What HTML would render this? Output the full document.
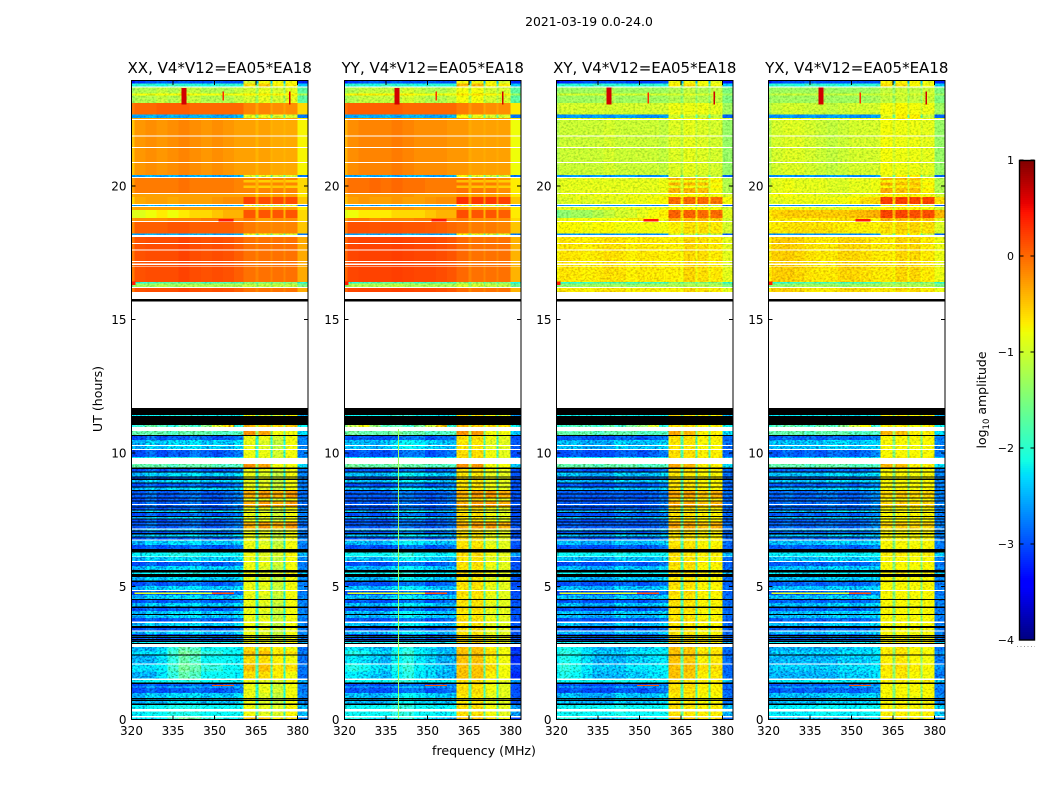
<!DOCTYPE html>
<html>
<head>
<meta charset="utf-8">
<title>2021-03-19 0.0-24.0</title>
<style>
html,body{margin:0;padding:0;background:#fff;width:1050px;height:800px;overflow:hidden}
svg{display:block}
text{font-family:"DejaVu Sans","Liberation Sans",sans-serif;fill:#000}
</style>
</head>
<body>
<svg id="chart" xmlns="http://www.w3.org/2000/svg" width="1050" height="800" viewBox="0 0 1050 800">
<defs>
<filter id="speckle" color-interpolation-filters="sRGB" x="0" y="0" width="100%" height="100%">
<feTurbulence type="fractalNoise" baseFrequency="0.42 0.55" numOctaves="2" seed="4" result="n"/>
<feColorMatrix in="n" type="matrix" values="2.4 0 0 0 -0.7 2.4 0 0 0 -0.7 2.4 0 0 0 -0.7 0 0 0 0 1" result="m"/>
<feComposite in="SourceGraphic" in2="m" operator="arithmetic" k1="0.75" k2="0.72" k3="0" k4="0"/>
</filter>
<filter id="speckle-soft" color-interpolation-filters="sRGB" x="0" y="0" width="100%" height="100%">
<feTurbulence type="fractalNoise" baseFrequency="0.42 0.55" numOctaves="2" seed="9" result="n"/>
<feColorMatrix in="n" type="matrix" values="2.2 0 0 0 -0.6 2.2 0 0 0 -0.6 2.2 0 0 0 -0.6 0 0 0 0 1" result="m"/>
<feComposite in="SourceGraphic" in2="m" operator="arithmetic" k1="0.3" k2="0.86" k3="0" k4="0"/>
</filter>
</defs>
<rect width="1050" height="800" fill="#fff"/>
<text x="589" y="26" font-size="12.4" text-anchor="middle">2021-03-19 0.0-24.0</text>
<text x="484" y="755" font-size="12.6" text-anchor="middle">frequency (MHz)</text>
<text transform="translate(102,399) rotate(-90)" font-size="12.6" text-anchor="middle">UT (hours)</text>
<text transform="translate(986,400) rotate(-90)" font-size="12.5" text-anchor="middle">log<tspan font-size="8.5" dy="3">10</tspan><tspan dy="-3"> amplitude</tspan></text>
<g id="panels"></g>
<g id="colorbar"></g>
</svg>
<script>
const panelTitles = ["XX, V4*V12=EA05*EA18","YY, V4*V12=EA05*EA18","XY, V4*V12=EA05*EA18","YX, V4*V12=EA05*EA18"];
const freqTicks = [320,335,350,365,380];
const utTicks = [0,5,10,15,20];
const colorbarTicks = [1,0,-1,-2,-3,-4];
const freqEdges = [320,321,325,329,333,337,341,345,349,353,357,360.4,364.8,365.8,370.2,370.9,374.9,375.6,379.9,383.7];
const utTop = 23.94;
const rowUtStart = [0,.09,.13,.30,.41,.56,.60,.71,.75,.79,.82,1.01,1.20,1.24,1.35,1.39,1.48,1.54,1.80,2.06,2.10,2.41,2.45,2.58,2.73,2.85,2.88,2.92,2.96,3.00,3.03,3.07,3.11,3.15,3.18,3.22,3.30,3.34,3.45,3.52,3.63,3.69,3.82,3.93,3.97,4.08,4.19,4.25,4.38,4.49,4.53,4.68,4.83,4.87,5.02,5.17,5.21,5.36,5.47,5.52,5.62,5.77,5.92,5.95,6.09,6.12,6.28,6.40,6.55,6.72,6.75,6.83,6.86,6.95,6.99,7.06,7.10,7.13,7.17,7.28,7.32,7.40,7.43,7.51,7.55,7.60,7.64,7.75,7.79,7.85,7.88,7.96,8.00,8.05,8.09,8.18,8.22,8.30,8.33,8.45,8.48,8.58,8.61,8.71,8.75,8.86,8.89,9.00,9.04,9.08,9.12,9.27,9.31,9.40,9.46,9.59,9.81,9.85,10.11,10.15,10.26,10.30,10.49,10.64,10.67,10.82,10.97,11.05,11.38,11.42,11.68,15.69,15.76,16.03,16.18,16.22,16.35,16.41,16.98,17.00,17.04,17.09,17.16,17.20,17.58,17.62,17.83,17.86,18.10,18.16,18.22,18.65,18.69,18.80,19.10,19.21,19.25,19.29,19.33,19.60,19.70,19.74,19.92,20.03,20.14,20.22,20.31,20.35,20.41,20.86,20.90,21.42,21.46,21.85,21.89,22.47,22.51,22.56,22.69,23.11,23.40,23.48,23.69,23.74,23.84];
const rowKind = ["g","w","t","w","t","k","b","k","b","k","b","a","b","a","k","t","w","h","g","w","h","k","g","h","w","k","t","k","a","k","a","k","b","k","a","b","w","a","k","b","w","a","b","k","b","a","k","b","a","k","b","a","w","b","a","k","b","k","t","k","b","a","w","b","w","t","k","a","b","w","a","k","b","k","a","k","b","w","e","k","e","k","a","k","b","k","a","k","b","k","a","k","e","w","e","k","a","k","e","k","e","k","b","k","a","k","b","k","a","k","b","k","a","k","o","w","t","a","w","b","w","b","a","k","o","w","c","k","t","k","w","k","w","R","w","L","D","R","w","R","w","R","w","R","w","R","w","R","w","B","P","w","Q","M","O","w","B","w","K","O","w","J","N","J","N","J","w","B","I","w","I","w","I","w","I","w","O","B","H","G","F","G","w","C","A"];
const specXX = {
a:[-3.1,-3.05,-2.9,-3.05,-2.95,-3.0,-2.85,-2.95,-3.05,-2.95,-2.85,-0.85,-2.0,-0.85,-2.0,-1.0,-2.0,-0.8,-2.85],
b:[-2.6,-2.65,-2.45,-2.55,-2.4,-2.45,-2.35,-2.55,-2.45,-2.55,-2.4,-0.85,-2.0,-0.95,-2.0,-1.1,-2.1,-0.8,-2.8],
t:[-2.3,-2.3,-2.2,-2.2,-2.1,-2.1,-2.1,-2.2,-2.2,-2.2,-2.2,-0.8,-1.8,-0.9,-1.8,-0.95,-1.9,-0.75,-2.6],
h:[-2.6,-2.6,-2.6,-2.4,-2.0,-1.7,-1.8,-2.2,-2.2,-2.2,-2.3,-0.6,-1.9,-0.6,-1.9,-0.7,-2.0,-0.8,-2.9],
g:[-2.4,-2.4,-2.4,-2.3,-1.9,-1.6,-1.7,-2.0,-2.0,-2.2,-2.2,-0.45,-1.8,-0.45,-1.7,-0.65,-1.8,-0.6,-2.85],
e:[-3.0,-3.0,-2.85,-3.0,-3.0,-2.9,-2.85,-3.0,-3.0,-2.9,-2.8,-0.35,-1.6,-0.25,-1.6,-0.35,-1.6,-0.25,-2.9],
o:[-1.7,-1.7,-1.7,-1.7,-1.8,-1.7,-1.7,-1.7,-1.8,-1.8,-1.8,-0.2,-1.3,-0.3,-1.5,-0.8,-1.6,-0.8,-2.4],
c:[-2.1,-1.9,-1.7,-1.8,-2.0,-1.7,-1.9,-1.5,-1.0,-0.5,-2.0,-0.4,-1.2,-0.5,-1.4,-0.6,-1.5,-0.5,-2.2],
A:[-3.3,-3.1,-3.0,-2.9,-3.0,-2.9,-3.0,-3.0,-2.9,-3.0,-3.0,-1.0,-2.5,-0.8,-2.5,-0.8,-2.5,-0.8,-3.2],
C:[-2.1,-2.0,-2.0,-2.1,-1.9,-2.0,-2.0,-2.1,-2.0,-2.0,-2.0,-0.6,-1.6,-0.5,-1.6,-0.7,-1.7,-0.7,-2.4],
G:[-1.3,-1.2,-1.2,-1.1,-1.2,-1.1,-1.1,-1.2,-1.2,-1.2,-1.1,-1.0,-1.3,-0.9,-1.3,-1.0,-1.3,-0.9,-1.7],
F:[-0.9,-0.8,-0.8,-0.8,-0.8,-0.7,-0.8,-0.8,-0.8,-0.8,-0.8,-0.7,-0.9,-0.7,-0.9,-0.7,-0.9,-0.7,-1.2],
H:[-0.1,0.0,0.0,0.05,0.05,0.05,0.0,0.0,0.0,0.0,0.0,-0.15,-0.3,-0.15,-0.3,-0.2,-0.3,-0.2,-0.6],
B:[-2.6,-2.6,-2.5,-2.6,-2.5,-2.6,-2.5,-2.5,-2.6,-2.6,-2.5,-0.9,-1.5,-0.9,-1.6,-1.0,-1.6,-1.0,-2.8],
O:[-0.4,-0.3,-0.3,-0.3,-0.3,-0.3,-0.3,-0.3,-0.3,-0.3,-0.3,-0.3,-0.5,-0.3,-0.5,-0.3,-0.5,-0.3,-0.7],
I:[-0.5,-0.25,-0.2,-0.25,-0.2,-0.15,-0.2,-0.25,-0.2,-0.25,-0.3,-0.3,-0.4,-0.3,-0.4,-0.35,-0.4,-0.35,-0.75],
J:[-0.3,-0.1,-0.1,-0.1,-0.1,-0.05,-0.1,-0.1,-0.1,-0.1,-0.15,-0.15,-0.4,-0.15,-0.4,-0.15,-0.4,-0.15,-0.6],
N:[-0.3,-0.1,-0.1,-0.1,-0.1,-0.05,-0.1,-0.1,-0.1,-0.1,-0.15,-0.5,-0.4,-0.55,-0.4,-0.5,-0.4,-0.55,-0.6],
K:[-0.6,-0.35,-0.3,-0.3,-0.35,-0.3,-0.3,-0.3,-0.25,-0.2,-0.2,0.2,-0.2,0.15,-0.2,0.15,-0.2,0.15,-0.5],
M:[-0.9,-0.9,-0.8,-0.7,-0.8,-0.7,-0.6,-0.6,-0.5,-0.4,-0.4,0.1,-0.4,0.1,-0.4,0.1,-0.4,0.1,-0.6],
Q:[-0.3,-0.2,-0.2,-0.2,-0.15,-0.15,-0.15,-0.1,-0.1,-0.1,-0.2,-0.1,-0.3,-0.3,-0.3,-0.2,-0.3,-0.2,-0.6],
P:[-0.2,0.05,0.05,0.05,0.1,0.1,0.05,0.05,0.05,0.05,0.0,-0.1,-0.2,-0.15,-0.2,-0.15,-0.2,-0.15,-0.5],
R:[-0.1,0.12,0.15,0.15,0.15,0.2,0.15,0.12,0.15,0.12,0.05,-0.05,-0.15,-0.05,-0.15,-0.05,-0.15,-0.05,-0.35],
L:[-1.5,-1.3,-1.3,-1.2,-1.3,-1.2,-1.2,-1.2,-1.2,-1.2,-1.2,-1.1,-1.3,-1.1,-1.3,-1.1,-1.3,-1.1,-1.5],
D:[-2.2,-2.0,-1.9,-1.8,-1.7,-1.8,-1.7,-1.9,-1.8,-1.8,-1.8,-1.5,-1.7,-1.5,-1.7,-1.5,-1.7,-1.5,-2.0]
};
const specYY = {
a:[-3.0,-3.05,-2.95,-3.05,-3.05,-2.95,-2.85,-2.85,-3.05,-2.95,-2.85,-0.6,-1.8,-0.6,-1.8,-0.8,-1.9,-0.9,-3.05],
b:[-2.55,-2.55,-2.55,-2.65,-2.55,-2.35,-2.2,-2.35,-2.45,-2.55,-2.55,-0.65,-1.8,-0.65,-1.8,-0.9,-1.9,-0.9,-3.0],
t:[-2.2,-2.2,-2.2,-2.2,-2.2,-2.0,-2.0,-2.2,-2.2,-2.3,-2.2,-0.6,-1.7,-0.6,-1.7,-0.8,-1.8,-0.9,-2.7],
h:[-2.4,-2.3,-2.4,-2.5,-2.6,-2.25,-2.05,-2.35,-2.45,-2.6,-2.6,-0.45,-1.7,-0.45,-1.7,-0.7,-1.8,-0.8,-3.2],
g:[-2.2,-2.05,-2.15,-2.35,-2.45,-2.15,-1.95,-2.25,-2.4,-2.5,-2.6,-0.45,-1.7,-0.45,-1.7,-0.6,-1.8,-0.8,-3.1],
e:[-2.95,-3.0,-2.95,-3.0,-3.0,-2.85,-2.85,-2.95,-3.0,-2.95,-2.85,-0.35,-1.6,-0.25,-1.6,-0.25,-1.7,-0.35,-3.0],
o:[-1.7,-1.6,-1.7,-1.7,-1.7,-1.6,-1.7,-1.7,-1.8,-1.8,-1.8,-0.2,-1.3,-0.25,-1.5,-0.8,-1.6,-0.8,-2.5],
c:[-1.5,-1.2,-0.8,-1.4,-1.8,-1.7,-1.9,-1.6,-1.1,-0.5,-2.0,-0.4,-1.2,-0.5,-1.4,-0.6,-1.5,-0.6,-2.2],
A:[-3.3,-3.1,-3.0,-2.9,-3.0,-2.9,-3.0,-3.0,-2.9,-3.0,-3.0,-0.8,-2.5,-0.8,-2.5,-0.8,-2.5,-1.0,-3.2],
C:[-2.1,-2.0,-2.0,-2.1,-1.9,-2.0,-2.0,-2.1,-2.0,-2.0,-2.0,-0.4,-1.6,-0.4,-1.6,-0.7,-1.7,-0.7,-2.4],
G:[-1.3,-1.2,-1.1,-1.1,-1.1,-1.1,-1.0,-1.1,-1.2,-1.2,-1.1,-0.8,-1.2,-0.8,-1.2,-1.0,-1.2,-1.0,-1.7],
F:[-0.8,-0.7,-0.7,-0.7,-0.7,-0.7,-0.7,-0.8,-0.8,-0.8,-0.8,-0.6,-0.8,-0.6,-0.8,-0.7,-0.9,-0.7,-1.3],
H:[-0.05,0.05,0.05,0.05,0.05,0.05,0.0,0.0,0.0,0.0,0.0,-0.1,-0.25,-0.15,-0.3,-0.2,-0.3,-0.2,-0.7],
B:[-2.6,-2.6,-2.5,-2.6,-2.5,-2.6,-2.5,-2.5,-2.6,-2.6,-2.5,-0.8,-1.5,-0.9,-1.6,-1.0,-1.6,-1.0,-2.8],
O:[-0.4,-0.25,-0.25,-0.25,-0.25,-0.25,-0.25,-0.3,-0.3,-0.3,-0.3,-0.25,-0.45,-0.3,-0.45,-0.3,-0.45,-0.3,-0.7],
I:[-0.4,-0.2,-0.15,-0.15,-0.15,-0.1,-0.15,-0.2,-0.2,-0.2,-0.25,-0.25,-0.35,-0.3,-0.35,-0.3,-0.35,-0.3,-0.8],
J:[-0.2,-0.05,-0.05,0.0,-0.05,0.0,-0.05,-0.05,-0.1,-0.1,-0.1,-0.05,-0.4,-0.1,-0.4,-0.1,-0.4,-0.2,-0.7],
N:[-0.2,-0.05,-0.05,0.0,-0.05,0.0,-0.05,-0.05,-0.1,-0.1,-0.1,-0.45,-0.4,-0.5,-0.4,-0.5,-0.4,-0.55,-0.7],
K:[-0.5,-0.3,-0.25,-0.3,-0.3,-0.25,-0.3,-0.3,-0.25,-0.2,-0.2,0.3,-0.2,0.25,-0.2,0.25,-0.2,0.2,-0.5],
M:[-0.9,-0.8,-0.7,-0.7,-0.7,-0.6,-0.6,-0.6,-0.5,-0.4,-0.4,0.15,-0.4,0.1,-0.4,0.1,-0.4,0.05,-0.7],
Q:[-0.3,-0.1,-0.1,-0.2,-0.15,-0.15,-0.15,-0.1,-0.1,-0.1,-0.2,-0.1,-0.3,-0.2,-0.3,-0.2,-0.3,-0.2,-0.6],
P:[-0.1,0.12,0.12,0.1,0.12,0.12,0.1,0.1,0.08,0.05,0.0,-0.05,-0.2,-0.1,-0.2,-0.1,-0.2,-0.15,-0.5],
R:[0.0,0.18,0.2,0.2,0.2,0.22,0.2,0.18,0.18,0.15,0.1,0.0,-0.15,-0.05,-0.15,-0.05,-0.15,-0.05,-0.4],
L:[-1.4,-1.2,-1.2,-1.2,-1.2,-1.1,-1.2,-1.2,-1.2,-1.2,-1.2,-1.0,-1.3,-1.0,-1.3,-1.1,-1.3,-1.1,-1.6],
D:[-2.2,-2.0,-1.9,-1.8,-1.7,-1.8,-1.7,-1.9,-1.8,-1.8,-1.8,-1.4,-1.7,-1.4,-1.7,-1.5,-1.7,-1.5,-2.1]
};
const specXY = {
a:[-3.05,-3.05,-2.95,-3.05,-3.05,-3.05,-2.95,-2.95,-3.05,-2.95,-2.85,-0.6,-1.8,-0.6,-1.8,-0.7,-1.8,-0.7,-2.95],
b:[-2.6,-2.55,-2.55,-2.65,-2.65,-2.65,-2.45,-2.55,-2.55,-2.55,-2.45,-0.65,-1.8,-0.65,-1.8,-0.75,-1.8,-0.75,-2.9],
t:[-2.2,-2.2,-2.2,-2.2,-2.2,-2.2,-2.1,-2.2,-2.2,-2.2,-2.2,-0.6,-1.7,-0.65,-1.7,-0.7,-1.7,-0.7,-2.6],
h:[-2.3,-2.1,-2.2,-2.4,-2.6,-2.6,-2.6,-2.5,-2.5,-2.4,-2.35,-0.45,-1.7,-0.5,-1.7,-0.7,-1.7,-0.65,-2.9],
g:[-2.2,-2.0,-2.1,-2.35,-2.5,-2.5,-2.5,-2.35,-2.35,-2.3,-2.25,-0.45,-1.7,-0.45,-1.7,-0.6,-1.7,-0.6,-2.95],
e:[-2.95,-3.0,-2.95,-3.0,-3.0,-2.95,-2.95,-3.0,-3.0,-2.95,-2.85,-0.3,-1.6,-0.3,-1.6,-0.45,-1.6,-0.35,-2.9],
o:[-1.7,-1.7,-1.7,-1.7,-1.8,-1.7,-1.7,-1.7,-1.8,-1.8,-1.8,-0.3,-1.3,-0.4,-1.5,-0.7,-1.6,-0.7,-2.4],
c:[-2.0,-1.9,-1.8,-1.8,-1.9,-1.7,-1.9,-1.6,-1.4,-1.0,-2.0,-0.6,-1.2,-0.6,-1.4,-0.7,-1.5,-0.7,-2.2],
A:[-3.4,-3.2,-3.1,-3.0,-3.0,-3.0,-3.0,-3.1,-3.1,-3.1,-3.0,-0.8,-2.5,-0.8,-2.5,-0.8,-2.5,-0.9,-3.3],
C:[-2.1,-2.0,-2.0,-2.1,-1.9,-2.0,-2.0,-2.1,-2.0,-2.0,-2.0,-0.7,-1.6,-0.6,-1.6,-0.8,-1.7,-0.8,-2.4],
G:[-1.4,-1.3,-1.3,-1.3,-1.3,-1.2,-1.3,-1.3,-1.3,-1.3,-1.3,-1.2,-1.4,-1.1,-1.4,-1.2,-1.4,-1.1,-1.5],
F:[-1.1,-1.0,-1.0,-1.0,-1.0,-1.0,-1.0,-1.0,-1.0,-1.0,-1.0,-1.0,-1.1,-0.95,-1.1,-1.0,-1.1,-1.0,-1.3],
H:[-1.1,-1.0,-1.0,-1.0,-1.0,-1.0,-1.0,-1.0,-1.0,-1.0,-1.0,-0.85,-1.0,-0.85,-1.0,-0.85,-1.0,-0.9,-1.3],
B:[-2.7,-2.7,-2.6,-2.7,-2.6,-2.7,-2.6,-2.6,-2.7,-2.7,-2.6,-1.0,-1.6,-1.0,-1.7,-1.1,-1.7,-1.1,-2.9],
O:[-1.0,-0.9,-0.9,-0.9,-0.85,-0.85,-0.9,-0.85,-0.85,-0.85,-0.85,-0.75,-0.9,-0.75,-0.9,-0.75,-0.95,-0.8,-1.0],
I:[-1.2,-1.05,-1.05,-1.05,-1.05,-1.0,-1.05,-1.05,-1.05,-1.05,-1.1,-0.95,-1.1,-0.9,-1.1,-0.95,-1.1,-1.0,-1.35],
J:[-1.1,-0.9,-0.9,-0.9,-0.9,-0.9,-0.9,-0.9,-0.9,-0.9,-0.85,-0.4,-1.0,-0.4,-1.0,-0.45,-1.0,-0.8,-1.2],
N:[-1.1,-0.9,-0.9,-0.9,-0.9,-0.9,-0.9,-0.9,-0.9,-0.9,-0.85,-0.85,-1.0,-0.8,-1.0,-0.85,-1.0,-0.7,-1.2],
K:[-1.1,-0.95,-0.9,-0.95,-0.9,-0.9,-0.9,-0.85,-0.85,-0.8,-0.75,0.0,-0.6,0.0,-0.6,0.0,-0.6,-0.05,-0.8],
M:[-1.6,-1.4,-1.3,-1.3,-1.2,-1.1,-1.0,-1.0,-0.9,-0.8,-0.7,0.05,-0.6,0.05,-0.6,0.0,-0.6,0.0,-0.9],
Q:[-0.9,-0.8,-0.8,-0.8,-0.8,-0.8,-0.8,-0.7,-0.7,-0.7,-0.8,-0.3,-0.8,-0.4,-0.8,-0.4,-0.8,-0.5,-1.0],
P:[-0.8,-0.75,-0.75,-0.8,-0.75,-0.75,-0.8,-0.8,-0.8,-0.8,-0.8,-0.7,-0.9,-0.6,-0.9,-0.6,-0.9,-0.65,-1.0],
R:[-0.75,-0.62,-0.65,-0.7,-0.65,-0.6,-0.62,-0.7,-0.65,-0.65,-0.7,-0.68,-0.8,-0.55,-0.8,-0.6,-0.8,-0.65,-0.9],
L:[-1.5,-1.4,-1.4,-1.3,-1.3,-1.3,-1.3,-1.4,-1.3,-1.3,-1.3,-1.2,-1.3,-1.2,-1.3,-1.2,-1.3,-1.2,-1.5],
D:[-2.2,-2.0,-2.0,-1.9,-1.8,-1.9,-1.8,-1.9,-1.9,-1.9,-1.9,-1.5,-1.7,-1.5,-1.7,-1.5,-1.7,-1.5,-2.0]
};
const specYX = {
a:[-3.0,-3.0,-2.9,-3.0,-2.9,-3.0,-2.9,-2.9,-3.0,-2.9,-2.8,-0.75,-1.5,-0.75,-1.5,-0.75,-1.5,-0.75,-2.85],
b:[-2.6,-2.55,-2.55,-2.55,-2.55,-2.55,-2.45,-2.45,-2.55,-2.45,-2.45,-0.75,-1.5,-0.75,-1.5,-0.8,-1.5,-0.75,-2.8],
t:[-2.3,-2.3,-2.3,-2.3,-2.3,-2.2,-2.2,-2.3,-2.3,-2.2,-2.2,-0.7,-1.4,-0.7,-1.4,-0.75,-1.4,-0.7,-2.5],
h:[-2.65,-2.6,-2.6,-2.6,-2.6,-2.6,-2.6,-2.5,-2.5,-2.5,-2.4,-0.7,-1.4,-0.65,-1.4,-0.75,-1.4,-0.8,-2.85],
g:[-2.6,-2.5,-2.5,-2.5,-2.5,-2.5,-2.5,-2.4,-2.4,-2.4,-2.35,-0.65,-1.4,-0.6,-1.4,-0.7,-1.4,-0.75,-2.75],
e:[-2.95,-2.95,-2.85,-2.95,-2.95,-2.85,-2.85,-2.95,-2.95,-2.85,-2.75,-0.55,-1.4,-0.5,-1.4,-0.55,-1.4,-0.55,-2.8],
o:[-1.7,-1.7,-1.7,-1.7,-1.8,-1.7,-1.7,-1.7,-1.8,-1.8,-1.8,-0.4,-1.3,-0.45,-1.4,-0.7,-1.5,-0.7,-2.4],
c:[-2.0,-1.8,-1.7,-1.8,-1.9,-1.7,-1.8,-1.5,-1.1,-0.7,-1.9,-0.7,-1.2,-0.7,-1.4,-0.8,-1.4,-0.7,-2.2],
A:[-3.3,-3.1,-3.0,-3.0,-2.9,-3.0,-3.0,-3.0,-3.0,-3.0,-3.0,-0.7,-2.5,-0.75,-2.5,-0.75,-2.5,-0.85,-3.2],
C:[-2.1,-2.0,-2.0,-2.1,-1.9,-2.0,-2.0,-2.1,-2.0,-2.0,-2.0,-0.6,-1.6,-0.6,-1.6,-0.75,-1.7,-0.8,-2.4],
G:[-1.35,-1.3,-1.3,-1.3,-1.3,-1.25,-1.3,-1.3,-1.3,-1.3,-1.25,-1.1,-1.35,-1.05,-1.35,-1.1,-1.35,-1.05,-1.5],
F:[-1.2,-1.1,-1.05,-1.05,-1.1,-1.05,-1.1,-1.05,-1.05,-1.05,-1.05,-1.0,-1.1,-1.0,-1.1,-1.0,-1.1,-1.0,-1.3],
H:[-1.2,-1.05,-1.0,-1.0,-1.05,-1.05,-1.1,-1.05,-1.0,-1.0,-1.0,-0.8,-1.0,-0.75,-1.0,-0.8,-1.0,-0.85,-1.3],
B:[-2.7,-2.7,-2.6,-2.7,-2.6,-2.7,-2.6,-2.6,-2.7,-2.7,-2.6,-0.9,-1.6,-0.7,-1.7,-0.7,-1.7,-1.1,-2.9],
O:[-0.9,-0.8,-0.8,-0.85,-0.85,-0.9,-0.9,-0.9,-0.85,-0.85,-0.85,-0.7,-0.9,-0.7,-0.9,-0.7,-0.9,-0.8,-1.0],
I:[-1.2,-1.0,-0.95,-0.95,-1.0,-1.05,-1.1,-1.05,-1.0,-1.0,-1.0,-0.8,-1.0,-0.85,-1.0,-0.85,-1.0,-0.9,-1.35],
J:[-1.1,-0.9,-0.85,-0.9,-0.9,-0.9,-0.95,-0.95,-0.9,-0.9,-0.85,-0.35,-0.9,-0.45,-0.9,-0.45,-0.9,-0.7,-1.2],
N:[-1.1,-0.9,-0.85,-0.9,-0.9,-0.9,-0.95,-0.95,-0.9,-0.9,-0.85,-0.75,-0.9,-0.65,-0.9,-0.6,-0.9,-0.8,-1.2],
K:[-1.0,-0.9,-0.85,-0.85,-0.85,-0.85,-0.85,-0.8,-0.75,-0.6,-0.55,0.22,-0.5,0.22,-0.5,0.2,-0.5,0.2,-0.6],
M:[-0.7,-0.55,-0.5,-0.5,-0.5,-0.5,-0.5,-0.5,-0.45,-0.4,-0.35,0.2,-0.35,0.2,-0.35,0.15,-0.35,0.15,-0.4],
Q:[-0.75,-0.65,-0.65,-0.7,-0.7,-0.65,-0.65,-0.6,-0.6,-0.6,-0.7,-0.35,-0.7,-0.4,-0.7,-0.4,-0.7,-0.45,-0.9],
P:[-0.75,-0.65,-0.62,-0.6,-0.6,-0.6,-0.62,-0.65,-0.7,-0.7,-0.7,-0.6,-0.8,-0.55,-0.8,-0.55,-0.8,-0.6,-0.95],
R:[-0.7,-0.52,-0.5,-0.55,-0.62,-0.65,-0.65,-0.55,-0.55,-0.6,-0.65,-0.65,-0.75,-0.55,-0.75,-0.55,-0.75,-0.65,-0.85],
L:[-1.5,-1.4,-1.4,-1.3,-1.3,-1.3,-1.3,-1.4,-1.3,-1.3,-1.3,-1.2,-1.3,-1.2,-1.3,-1.2,-1.3,-1.2,-1.5],
D:[-2.2,-2.0,-2.0,-1.9,-1.8,-1.9,-1.8,-1.9,-1.9,-1.9,-1.9,-1.5,-1.7,-1.5,-1.7,-1.5,-1.7,-1.5,-2.0]
};
const panelSpectra = [specXX,specYY,specXY,specYX];
/* narrow interference features: panel, freq low, freq high, UT low, UT high, log amplitude */
const rfiPanel   = [0,0,0,1,1,1,2,2,2,3,3,3,0,1,2,3,0,1,2,3,0,1,2,3,1,0,1,2,3,0,1,2,3];
const rfiFreqLo  = [338,376.8,352.8,338,376.8,352.8,338,376.6,352.8,338,376.6,352.8,320,320,320,320,351.4,351.4,351.4,351.4,321,321,321,321,339.4,349,349,349,349,349,349,349,349];
const rfiFreqHi  = [339.8,377.4,353.4,339.8,377.4,353.4,339.8,377.2,353.4,339.8,377.2,353.4,321.5,321.5,321.5,321.5,356.8,356.8,356.8,356.8,357,357,357,357,339.7,357,357,357,357,357,357,357,357];
const rfiUtLo    = [23.05,23.05,23.2,23.05,23.05,23.2,23.05,23.05,23.1,23.05,23.05,23.1,16.3,16.3,16.3,16.3,18.68,18.68,18.68,18.68,4.72,4.72,4.72,4.72,0,1.26,1.26,1.26,1.26,4.72,4.72,4.72,4.72];
const rfiUtHi    = [23.68,23.55,23.55,23.68,23.55,23.55,23.7,23.55,23.5,23.7,23.55,23.5,16.42,16.42,16.42,16.42,18.76,18.76,18.76,18.76,4.76,4.76,4.76,4.76,10.9,1.3,1.3,1.3,1.3,4.76,4.76,4.76,4.76];
const rfiLog     = [0.65,0.65,0.3,0.65,0.65,0.3,0.65,0.65,0.3,0.65,0.65,0.3,0.4,0.4,0.4,0.4,0.4,0.4,0.4,0.4,-0.9,-0.9,-0.9,-0.9,-1.3,0.1,0.1,0.1,0.1,0.1,0.1,0.1,0.1];

const svgNS = "http://www.w3.org/2000/svg";
const panelLeft = [131.5,344.5,556.5,768.5];
const panelWidth = 176.5;
const frameTop = 81;
const frameBottom = 719.5;
function xScale(p, f){ return panelLeft[p] + (f - 320) * 2.77; }
function yScale(u){ return 719.7 - 26.68 * u; }
function lerpStops(stops, t){
  for(let i = 1; i < stops.length; i++){
    if(t <= stops[i][0]){
      const a = stops[i-1], b = stops[i];
      return a[1] + (b[1]-a[1]) * (t-a[0]) / (b[0]-a[0]);
    }
  }
  return stops[stops.length-1][1];
}
const jetR = [[0,0],[.35,0],[.66,1],[.89,1],[1,.5]];
const jetG = [[0,0],[.125,0],[.375,1],[.64,1],[.91,0],[1,0]];
const jetB = [[0,.5],[.11,1],[.34,1],[.65,0],[1,0]];
function colorOf(v){
  const t = Math.max(0, Math.min(1, (v + 4) / 5));
  return "rgb(" + Math.round(255*lerpStops(jetR,t)) + "," + Math.round(255*lerpStops(jetG,t)) + "," + Math.round(255*lerpStops(jetB,t)) + ")";
}
function mk(tag, attrs, parent){
  const el = document.createElementNS(svgNS, tag);
  for(const k in attrs) el.setAttribute(k, attrs[k]);
  parent.appendChild(el);
  return el;
}
const softKinds = "GLFBCAD";
const panelsRoot = document.getElementById("panels");
panelTitles.forEach(function(title, p){
  const g = mk("g", {}, panelsRoot);
  
  
  const gSpeckle = mk("g", {filter:"url(#speckle)"}, g);
  
  
  const gSoft = mk("g", {filter:"url(#speckle-soft)"}, g);
  
  
  const gPlain = mk("g", {}, g);
  
  
  const gBlack = mk("g", {}, g);
  
  
  const spectra = panelSpectra[p];
  const xR = panelLeft[p] + panelWidth;
  rowKind.forEach(function(kind, r){
    if(kind === "w") return;
    const u0 = rowUtStart[r];
    const u1 = r + 1 < rowUtStart.length ? rowUtStart[r+1] : utTop;
    const yTop = yScale(u1);
    const h = yScale(u0) - yTop;
    if(kind === "k"){
      const band = mk("rect", {x:panelLeft[p], y:yTop, width:panelWidth, height:h+0.2, fill:"#000", "shape-rendering":"crispEdges"}, gBlack);
      
      
      return;
    }
    const isLow = kind === kind.toLowerCase();
    const spec = spectra[kind];
    spec.forEach(function(v, c){
      const x0 = xScale(p, freqEdges[c]);
      const x1 = Math.min(xR, xScale(p, freqEdges[c+1]));
      let host = gPlain;
      if(isLow) host = (c <= 10 || c === 18) ? gSpeckle : gSoft;
      else if(softKinds.indexOf(kind) >= 0 || p >= 2) host = gSoft;
      const cell = mk("rect", {x:x0, y:yTop, width:x1-x0, height:h, fill:colorOf(v), "shape-rendering":"crispEdges"}, host);
      
      
    });
  });
  rfiLog.forEach(function(v, i){
    if(rfiPanel[i] !== p) return;
    const x0 = xScale(p, rfiFreqLo[i]);
    const y0 = yScale(rfiUtHi[i]);
    const spot = mk("rect", {x:x0, y:y0, width:xScale(p, rfiFreqHi[i])-x0, height:yScale(rfiUtLo[i])-y0, fill:colorOf(v), "shape-rendering":"crispEdges"}, g);
    
    
  });
  const frame = mk("rect", {x:panelLeft[p], y:frameTop-.5, width:panelWidth, height:frameBottom-frameTop+.5, fill:"none", stroke:"#000", "stroke-width":1, "shape-rendering":"crispEdges"}, g);
  
  
  freqTicks.forEach(function(f){
    const x = xScale(p, f);
    const t1 = mk("line", {x1:x, x2:x, y1:frameBottom, y2:frameBottom-4, stroke:"#000", "shape-rendering":"crispEdges"}, g);
    
    
    const t2 = mk("line", {x1:x, x2:x, y1:frameTop, y2:frameTop+4, stroke:"#000", "shape-rendering":"crispEdges"}, g);
    
    
    const lab = mk("text", {x:x, y:735, "font-size":12, "text-anchor":"middle"}, g);
    
    
    lab.textContent = f;
  });
  utTicks.forEach(function(u){
    const y = yScale(u);
    const t1 = mk("line", {x1:panelLeft[p], x2:panelLeft[p]+4, y1:y, y2:y, stroke:"#000", "shape-rendering":"crispEdges"}, g);
    
    
    const t2 = mk("line", {x1:xR, x2:xR-4, y1:y, y2:y, stroke:"#000", "shape-rendering":"crispEdges"}, g);
    
    
    const lab = mk("text", {x:panelLeft[p]-5, y:y+4.5, "font-size":12, "text-anchor":"end"}, g);
    
    
    lab.textContent = u;
  });
  const ttl = mk("text", {x:panelLeft[p]+panelWidth/2, y:73, "font-size":15, "text-anchor":"middle"}, g);
  
  
  ttl.textContent = title;
});

/* colorbar */
const cbar = document.getElementById("colorbar");


const cbLeft = 1019.5, cbWidth = 15;
function cbY(v){ return 640 - (v + 4) * 96; }
for(let py = 160; py < 640; py += 2){
  const seg = mk("rect", {x:cbLeft, y:py, width:cbWidth, height:2.5, fill:colorOf(1 - (py + 1 - 160) / 96), "shape-rendering":"crispEdges"}, cbar);
  
  
}
const cbFrame = mk("rect", {x:cbLeft, y:160.5, width:cbWidth, height:479.5, fill:"none", stroke:"#000", "stroke-width":1.4}, cbar);


colorbarTicks.forEach(function(v){
  const y = cbY(v);
  const a = mk("line", {x1:cbLeft, x2:cbLeft+4, y1:y, y2:y, stroke:"#000", "shape-rendering":"crispEdges"}, cbar);
  
  
  const b = mk("line", {x1:cbLeft+cbWidth-4, x2:cbLeft+cbWidth, y1:y, y2:y, stroke:"#000", "shape-rendering":"crispEdges"}, cbar);
  
  
  const lab = mk("text", {x:1014, y:y+4, "font-size":11, "text-anchor":"end"}, cbar);
  
  
  lab.textContent = String(v).replace("-", "\u2212");
});
const cbDots = mk("line", {x1:1017, x2:1035, y1:646.5, y2:646.5, stroke:"#999", "stroke-width":1, "stroke-dasharray":"1 2.5"}, cbar);


</script>
</body>
</html>
